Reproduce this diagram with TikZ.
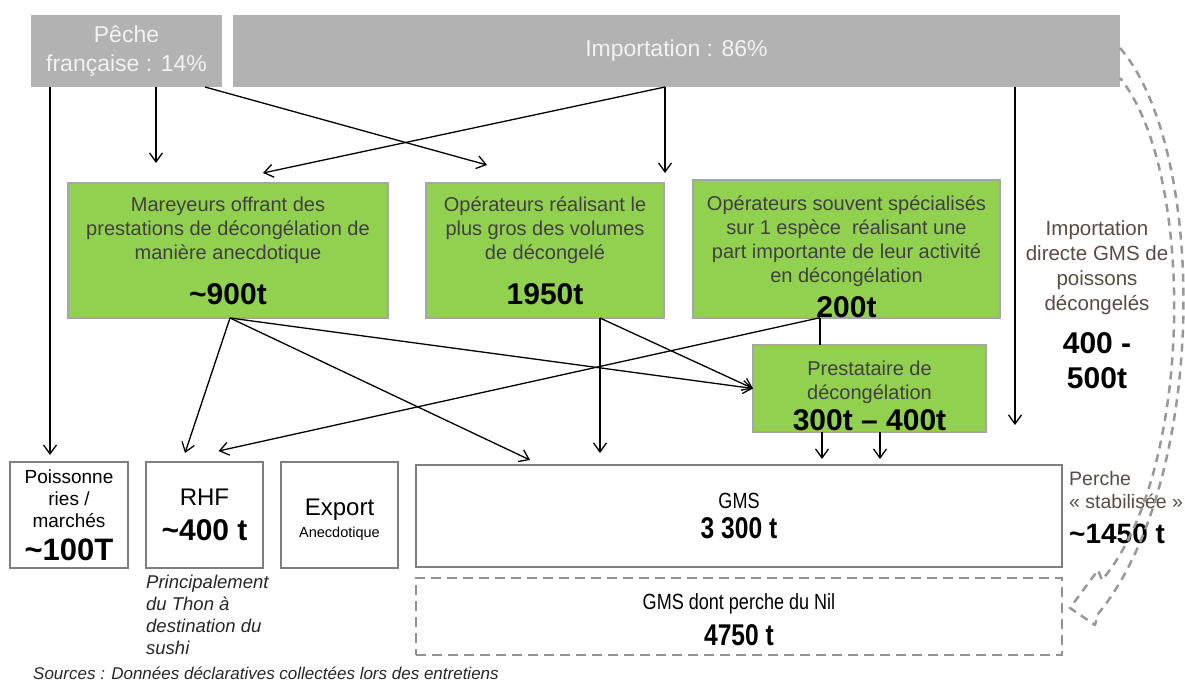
\documentclass[tikz,border=0pt]{standalone}
\usepackage{fontspec}
\setmainfont{Liberation Sans}
\newfontfamily\narrowfont[FakeStretch=0.82]{Liberation Sans}
\usetikzlibrary{arrows.meta,calc}
\definecolor{boxgray}{HTML}{B2B2B2}
\definecolor{boxgreen}{HTML}{92D050}
\definecolor{edgegray}{HTML}{7F7F7F}
\definecolor{textgray}{HTML}{404040}
\definecolor{notebrown}{HTML}{5A4A42}
\newcommand{\bignum}[1]{{\fontsize{30}{36}\selectfont\bfseries #1}}

\tikzset{
  source/.style={fill=boxgray, text=white!95!black, font=\fontsize{23}{29}\selectfont,
    align=center, inner sep=0pt, outer sep=0pt},
  greenbox/.style={fill=boxgreen, draw=gray!70, line width=2pt, text=textgray,
    font=\fontsize{20}{24}\selectfont, align=center, inner sep=0pt, outer sep=0pt},
  whitebox/.style={draw=edgegray, line width=2.5pt, align=center, inner sep=0pt, outer sep=0pt},
  flow/.style={-{Straight Barb[length=9pt,width=13pt]}, line width=1.3pt},
}

\begin{document}
\begin{tikzpicture}[x=1pt,y=-1pt]
\useasboundingbox (0,0) rectangle (1185,682);

% origine
\node[source, minimum width=191pt, minimum height=72pt] (peche) at (126.5,51) {Pêche\\française : 14\%};
\node[source, minimum width=887pt, minimum height=72pt] (imp) at (676.5,51) {Importation : 86\%};

% operateurs
\node[greenbox, minimum width=320pt, minimum height=135pt] (mar) at (228,250.5)
  {Mareyeurs offrant des\\prestations de décongélation de\\manière anecdotique\\[19pt]\textcolor{black}{\bignum{\textasciitilde900t}}};
\node[greenbox, minimum width=238pt, minimum height=135pt] (oper) at (545,250.5)
  {Opérateurs réalisant le\\plus gros des volumes\\de décongelé\\[19pt]\textcolor{black}{\bignum{1950t}}};
\node[greenbox, minimum width=307pt, minimum height=132pt] (spec) at (846.5,249)
  {\rule{0pt}{30pt}Opérateurs souvent spécialisés\\sur 1 espèce\ \ réalisant une\\part importante de leur activité\\en décongélation\\[9pt]\textcolor{black}{\bignum{200t}}};
\node[greenbox, minimum width=233pt, minimum height=87pt] (prest) at (869.5,388.5)
  {\rule{0pt}{30pt}Prestataire de\\décongélation\\[5pt]\textcolor{black}{\bignum{300t -- 400t}}};

% debouches
\node[whitebox, minimum width=118pt, minimum height=106pt, font=\fontsize{19}{22}\selectfont] (poiss) at (69,515)
  {Poissonne\\ries /\\marchés\\[11pt]{\fontsize{31}{36}\selectfont\bfseries \textasciitilde100T}};
\node[whitebox, minimum width=117pt, minimum height=106pt, font=\fontsize{24}{35}\selectfont] (rhf) at (204.5,515)
  {RHF\\\bignum{\textasciitilde400 t}};
\node[whitebox, minimum width=117pt, minimum height=106pt, font=\fontsize{24}{22}\selectfont] (export) at (339.5,515)
  {\rule{0pt}{25pt}Export\\{\fontsize{14.5}{16}\selectfont Anecdotique}};
\node[whitebox, minimum width=646pt, minimum height=102pt, font=\narrowfont\fontsize{22}{30}\selectfont] (gms) at (739,516)
  {GMS\\{\fontsize{30}{34}\selectfont\bfseries 3 300 t}};
\node[whitebox, draw=edgegray!85, dash pattern=on 10pt off 6pt, minimum width=646pt, minimum height=77pt,
  font=\narrowfont\fontsize{22}{36}\selectfont] (nil) at (739,616.5)
  {\rule{0pt}{22pt}GMS dont perche du Nil\\{\fontsize{30}{34}\selectfont\bfseries 4750 t}};

% textes libres
\node[font=\fontsize{20.5}{25}\selectfont, text=notebrown, align=center, inner sep=0pt] (impdir) at (1097,305)
  {Importation\\directe GMS de\\poissons\\décongelés\\[17pt]\textcolor{black}{\bignum{400 -}}\\[10pt]\textcolor{black}{\bignum{500t}}};
\node[anchor=north west, font=\itshape\fontsize{18.5}{22}\selectfont, text=black!85, align=left, inner sep=0pt] (thon)
  at ([yshift=-6.5pt]rhf.south west) {Principalement\\du Thon à\\destination du\\sushi};
\node[anchor=west, font=\itshape\fontsize{17}{20}\selectfont, text=black!85, inner sep=0pt] (src) at (33,673)
  {Sources : Données déclaratives collectées lors des entretiens};
\node[anchor=west, font=\fontsize{19.5}{23}\selectfont, text=notebrown, align=left, inner sep=0pt] (perche) at (1069,508)
  {Perche\\« stabilisée »\\[12pt]\textcolor{black}{\fontsize{28}{30}\selectfont\bfseries \textasciitilde1450 t}};

% flux
\draw[flow] ([xshift=19pt]peche.south west) -- ([xshift=-19pt,yshift=7pt]poiss.north);
\draw[flow] ([xshift=125pt]peche.south west) -- ([xshift=88pt,yshift=20pt]mar.north west);
\draw[flow] ([xshift=174pt]peche.south west) -- ([xshift=61pt,yshift=18pt]oper.north west);
\draw[flow] ([xshift=-11.5pt]imp.south) -- ([xshift=35pt,yshift=10pt]mar.north);
\draw[flow] ([xshift=-11.5pt]imp.south) -- ([xshift=120pt,yshift=10pt]oper.north);
\draw[flow] ([xshift=-105pt]imp.south east) -- ([xshift=-47pt,yshift=40pt]gms.north east);
\draw[flow] ([xshift=2pt]mar.south) -- ([xshift=-19.5pt,yshift=9pt]rhf.north);
\draw[flow] ([xshift=2pt]mar.south) -- ([xshift=114pt,yshift=5pt]gms.north west);
\draw[flow] ([xshift=2pt]mar.south) -- (prest.west);
\draw[flow] ([xshift=55pt]oper.south) -- ([xshift=184pt,yshift=12pt]gms.north west);
\draw[flow] ([xshift=55pt]oper.south) -- (prest.west);
\draw[flow] ([xshift=-26.5pt]spec.south) -- ([xshift=14pt,yshift=11pt]rhf.north);
\draw[line width=1.3pt] ([xshift=-26.5pt]spec.south) -- ([xshift=-49.5pt]prest.north);
\draw[flow] ([xshift=-47.5pt]prest.south) -- ([xshift=83pt,yshift=6pt]gms.north);
\draw[flow] ([xshift=10.5pt]prest.south) -- ([xshift=141pt,yshift=6pt]gms.north);

% fleche creuse vers la perche du Nil
\draw[edgegray!80, line width=2.5pt, dash pattern=on 8pt off 6pt, line join=round]
  ([yshift=-33pt]imp.north east) .. controls (1208,150) and (1208,480) .. (1098,614)
  -- (1095,625) -- (1070,608) -- (1098,570) -- (1102,580)
  .. controls (1195,470) and (1195,170) .. ([yshift=-63pt]imp.north east);
\end{tikzpicture}
\end{document}
